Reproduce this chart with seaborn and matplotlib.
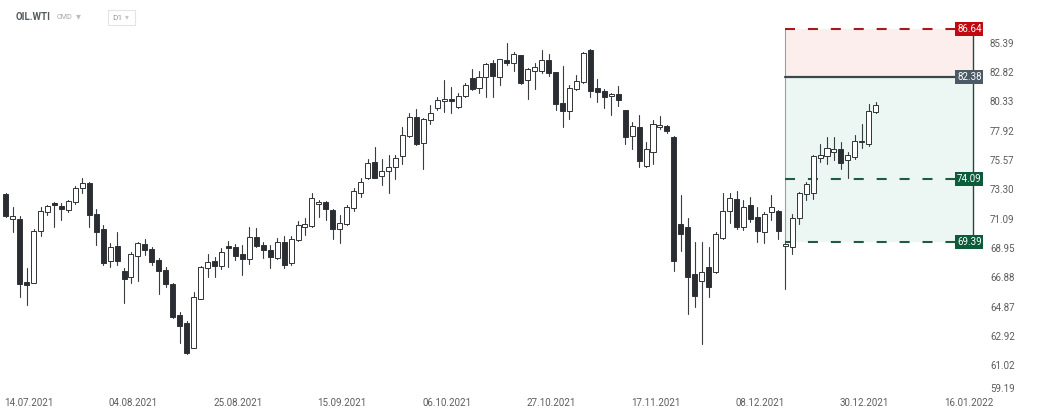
import numpy as np
import pandas as pd
import matplotlib
matplotlib.use("Agg")
import matplotlib.pyplot as plt
from matplotlib.patches import Rectangle
from matplotlib.ticker import NullLocator
import seaborn as sns

# ---------------- data (OIL.WTI, D1) ----------------
opens = [72.96, 71.09, 71.09, 66.57, 66.50, 70.20, 71.60, 72.28, 72.05, 71.75,
         72.35, 73.41, 73.80, 71.46, 70.35, 68.05, 69.12, 67.34, 66.92, 68.40,
         69.26, 68.90, 68.12, 67.41, 66.43, 64.32, 63.78, 62.14, 65.40, 67.55,
         68.05, 67.69, 69.12, 69.05, 68.54, 68.19, 69.77, 69.19, 68.83, 68.26,
         69.41, 67.90, 69.55, 70.50, 70.57, 72.20, 72.35, 71.75, 70.35, 70.72,
         71.90, 73.03, 74.18, 75.43, 74.33, 74.72, 75.04, 75.89, 77.49, 79.04,
         76.92, 78.79, 79.77, 80.36, 80.52, 79.85, 80.77, 82.31, 81.45, 82.40,
         83.60, 82.40, 83.87, 83.60, 84.30, 82.14, 82.91, 82.91, 83.87, 82.82,
         80.19, 79.53, 81.37, 81.97, 84.74, 81.45, 81.20, 80.77, 80.94, 79.61,
         77.49, 78.22, 75.12, 76.21, 78.22, 78.30, 77.41, 70.72, 70.50, 67.13,
         66.64, 67.62, 67.27, 69.70, 71.68, 72.58, 70.50, 72.13, 71.23, 70.13,
         71.60, 71.68, 69.12, 69.05, 71.16, 72.95, 73.03, 75.74, 75.89, 76.21,
         76.45, 75.58, 75.82, 77.00, 76.84, 79.45]
highs = [73.00, 71.98, 71.31, 67.55, 70.35, 71.98, 72.13, 72.35, 72.28, 72.50,
         73.57, 74.18, 73.85, 71.83, 70.64, 69.34, 70.13, 67.55, 68.69, 69.41,
         69.62, 69.05, 68.26, 67.62, 66.50, 64.52, 63.91, 65.88, 67.70, 68.54,
         68.33, 68.97, 69.48, 69.26, 69.19, 70.50, 70.42, 69.41, 69.19, 69.70,
         69.84, 69.84, 70.94, 71.16, 73.03, 72.50, 72.43, 71.80, 71.38, 72.13,
         73.41, 74.18, 75.66, 76.60, 75.66, 75.97, 75.97, 78.22, 79.37, 79.69,
         78.96, 80.02, 80.69, 82.14, 81.54, 81.03, 81.88, 83.08, 82.91, 83.60,
         83.87, 84.00, 85.36, 84.56, 84.35, 83.17, 83.60, 84.74, 84.39, 82.86,
         83.34, 81.71, 82.56, 84.56, 84.80, 82.22, 81.37, 81.03, 81.62, 79.65,
         78.63, 79.20, 77.00, 78.79, 79.12, 78.38, 77.45, 72.88, 71.16, 69.41,
         69.41, 69.05, 70.13, 73.03, 73.03, 73.18, 72.50, 72.73, 71.98, 71.60,
         72.88, 71.72, 69.34, 71.46, 73.06, 73.87, 75.97, 76.84, 77.41, 77.41,
         77.00, 76.21, 77.57, 78.46, 80.10, 80.27]
lows = [71.25, 70.13, 65.54, 64.99, 66.45, 69.84, 71.38, 70.50, 71.01, 71.60,
        72.20, 73.03, 70.50, 69.19, 67.76, 67.62, 67.76, 65.12, 66.50, 66.64,
        68.47, 67.76, 65.74, 66.22, 64.10, 62.47, 61.75, 62.10, 65.35, 66.92,
        66.92, 67.48, 67.62, 68.12, 67.06, 67.83, 69.05, 68.26, 67.55, 68.19,
        67.55, 67.76, 69.48, 69.91, 70.50, 71.23, 71.01, 69.62, 69.34, 70.64,
        71.68, 72.73, 74.10, 74.15, 73.64, 73.03, 74.10, 75.27, 77.41, 76.76,
        74.88, 78.46, 79.61, 79.45, 79.37, 79.77, 80.69, 81.30, 81.03, 80.69,
        80.69, 81.71, 83.43, 82.91, 81.80, 80.52, 81.37, 82.74, 82.48, 79.61,
        78.22, 78.87, 81.28, 81.88, 80.69, 80.27, 79.77, 79.20, 79.94, 76.84,
        76.45, 75.04, 75.04, 75.27, 78.05, 77.73, 67.34, 68.76, 64.38, 64.85,
        62.40, 65.54, 67.20, 69.62, 70.79, 70.35, 70.28, 70.86, 69.41, 69.34,
        71.01, 69.62, 66.08, 68.54, 70.72, 72.50, 72.58, 75.43, 75.27, 75.58,
        74.88, 74.18, 75.66, 76.52, 76.68, 79.37]
closes = [71.31, 71.31, 66.43, 66.36, 70.20, 71.68, 72.05, 72.13, 71.83, 72.43,
          73.41, 73.80, 71.38, 70.13, 67.90, 69.05, 68.05, 66.78, 68.54, 69.34,
          68.83, 67.98, 67.34, 66.43, 64.18, 63.58, 61.82, 65.54, 67.62, 67.98,
          67.69, 68.69, 68.97, 68.40, 68.19, 69.77, 69.12, 68.83, 68.33, 69.41,
          67.76, 69.62, 70.64, 70.72, 72.65, 72.35, 71.83, 70.35, 70.79, 71.98,
          73.18, 73.87, 75.35, 74.18, 74.72, 75.04, 75.74, 77.57, 79.04, 76.84,
          78.87, 79.37, 80.44, 80.52, 80.36, 80.77, 81.71, 81.37, 82.40, 83.52,
          82.48, 83.95, 83.60, 84.39, 81.88, 83.08, 83.26, 83.87, 82.74, 80.10,
          79.53, 81.45, 82.05, 84.48, 81.20, 81.11, 80.69, 80.94, 80.44, 77.41,
          78.30, 75.50, 76.45, 78.46, 78.38, 77.89, 68.05, 69.98, 66.92, 65.60,
          67.27, 66.22, 69.98, 71.68, 72.65, 70.50, 71.98, 71.09, 70.20, 71.46,
          71.98, 70.20, 69.26, 71.16, 73.03, 73.72, 75.89, 75.97, 76.52, 76.45,
          75.35, 75.97, 77.08, 77.08, 79.53, 80.02]

date_labels = ["14.07.2021", "04.08.2021", "25.08.2021", "15.09.2021", "06.10.2021",
               "27.10.2021", "17.11.2021", "08.12.2021", "30.12.2021", "16.01.2022"]
price_ticks = [85.39, 82.82, 80.33, 77.92, 75.57, 73.30, 71.09, 68.95, 66.88,
               64.87, 62.92, 61.02, 59.19]

stop_level = 86.64
entry_level = 82.38
target1_level = 74.09
target2_level = 69.39
zone_start_bar = 112
zone_end_bar = 139

# ---------------- frame ----------------
df = pd.DataFrame({"open": opens, "high": highs, "low": lows, "close": closes})
df["bar"] = np.arange(len(df))
df["bull"] = df["close"] >= df["open"]

wicks = pd.concat([
    pd.DataFrame({"bar": df["bar"], "price": df["low"], "unit": df["bar"]}),
    pd.DataFrame({"bar": df["bar"], "price": df["high"], "unit": df["bar"]}),
])

sns.set_theme(style="white")
plt.rcParams["font.family"] = ["Roboto", "DejaVu Sans"]

W, H = 1038, 415
fig = plt.figure(figsize=(W / 100, H / 100), dpi=100)
ax_bottom_px = 394.5
ax_right_px = 985
ax = fig.add_axes([0, 1 - ax_bottom_px / H, ax_right_px / W, ax_bottom_px / H])
ax.set_yscale("log")

# trade zones
ax.fill_between([zone_start_bar, zone_end_bar], entry_level, stop_level,
                color="#fdeeee", lw=0, zorder=0)
ax.fill_between([zone_start_bar, zone_end_bar], target2_level, entry_level,
                color="#ecf7f3", lw=0, zorder=0)
ax.plot([zone_start_bar, zone_start_bar], [target2_level, stop_level],
        color="#8aa99d", lw=0.8, zorder=1)
ax.plot([zone_end_bar, zone_end_bar], [target2_level, stop_level],
        color="#24493b", lw=1.0, zorder=1)
ax.plot([zone_start_bar, zone_end_bar], [stop_level, stop_level],
        color="#a31b1b", lw=1.5, dashes=(4.8, 6.2), zorder=1)
ax.plot([zone_start_bar, zone_end_bar], [entry_level, entry_level],
        color="#3c464d", lw=1.6, zorder=1)
for lv in (target1_level, target2_level):
    ax.plot([zone_start_bar, zone_end_bar], [lv, lv],
            color="#1f5a42", lw=1.5, dashes=(4.8, 6.2), zorder=1)

# wicks through seaborn
sns.lineplot(data=wicks, x="bar", y="price", units="unit", estimator=None,
             color="#3a3d40", lw=0.8, ax=ax, zorder=2)

# bodies
body_low = np.minimum(df["open"], df["close"])
body_h = np.maximum(np.abs(df["close"] - df["open"]), 0.12)
ax.bar(df["bar"], body_h, bottom=body_low, width=0.72,
       color=np.where(df["bull"], "#ffffff", "#2a2e33"),
       edgecolor="#2f3337", linewidth=0.7, zorder=3)

# level tags
tag_x = 138.45
for lv, fc in ((stop_level, "#c1090f"), (entry_level, "#4b5a64"),
               (target1_level, "#0c5b3b"), (target2_level, "#0c5b3b")):
    ax.text(tag_x, lv, f"{lv:.2f}", ha="center", va="center", color="white",
            fontsize=7, zorder=5,
            bbox=dict(boxstyle="square,pad=0.18", fc=fc, ec="none"))

# axes
ax.set_xlim(-0.82, 140.7)
ax.set_ylim(59.19, 89.28)
ax.set_xlabel("")
ax.set_ylabel("")
tick_pos = 3.35 + 15 * np.arange(len(date_labels))
ax.set_xticks(tick_pos)
ax.set_xticklabels(date_labels)
ax.yaxis.tick_right()
ax.set_yticks(price_ticks)
ax.set_yticklabels([f"{v:.2f}" for v in price_ticks])
ax.yaxis.set_minor_locator(NullLocator())
ax.tick_params(axis="both", length=0, labelsize=7, colors="#5d5d5d")
ax.tick_params(axis="y", pad=3.6)
ax.tick_params(axis="x", pad=2.5)
ax.yaxis.get_major_ticks()[-1].label2.set_verticalalignment("bottom")
sns.despine(ax=ax, left=True, bottom=True, right=True, top=True)
ax.grid(False)

# header
fig.text(16 / W, 1 - 17.5 / H, "OIL.WTI", fontsize=7, weight="bold",
         color="#555a5e", va="center")
fig.text(57 / W, 1 - 17.5 / H, "CMD", fontsize=5.2, color="#a8a8a8", va="center")
fig.text(76 / W, 1 - 16.5 / H, "▾", fontsize=7, color="#bdbdbd", va="center")
fig.patches.append(Rectangle((108 / W, 1 - 25 / H), 27 / W, 15 / H,
                             transform=fig.transFigure, fill=False,
                             ec="#e4e4e4", lw=0.8))
fig.text(112 / W, 1 - 17.5 / H, "D1", fontsize=6, color="#9a9a9a", va="center")
fig.text(125 / W, 1 - 17 / H, "▾", fontsize=5.5, color="#c4c4c4", va="center")

fig.savefig("out.png", dpi=100)
